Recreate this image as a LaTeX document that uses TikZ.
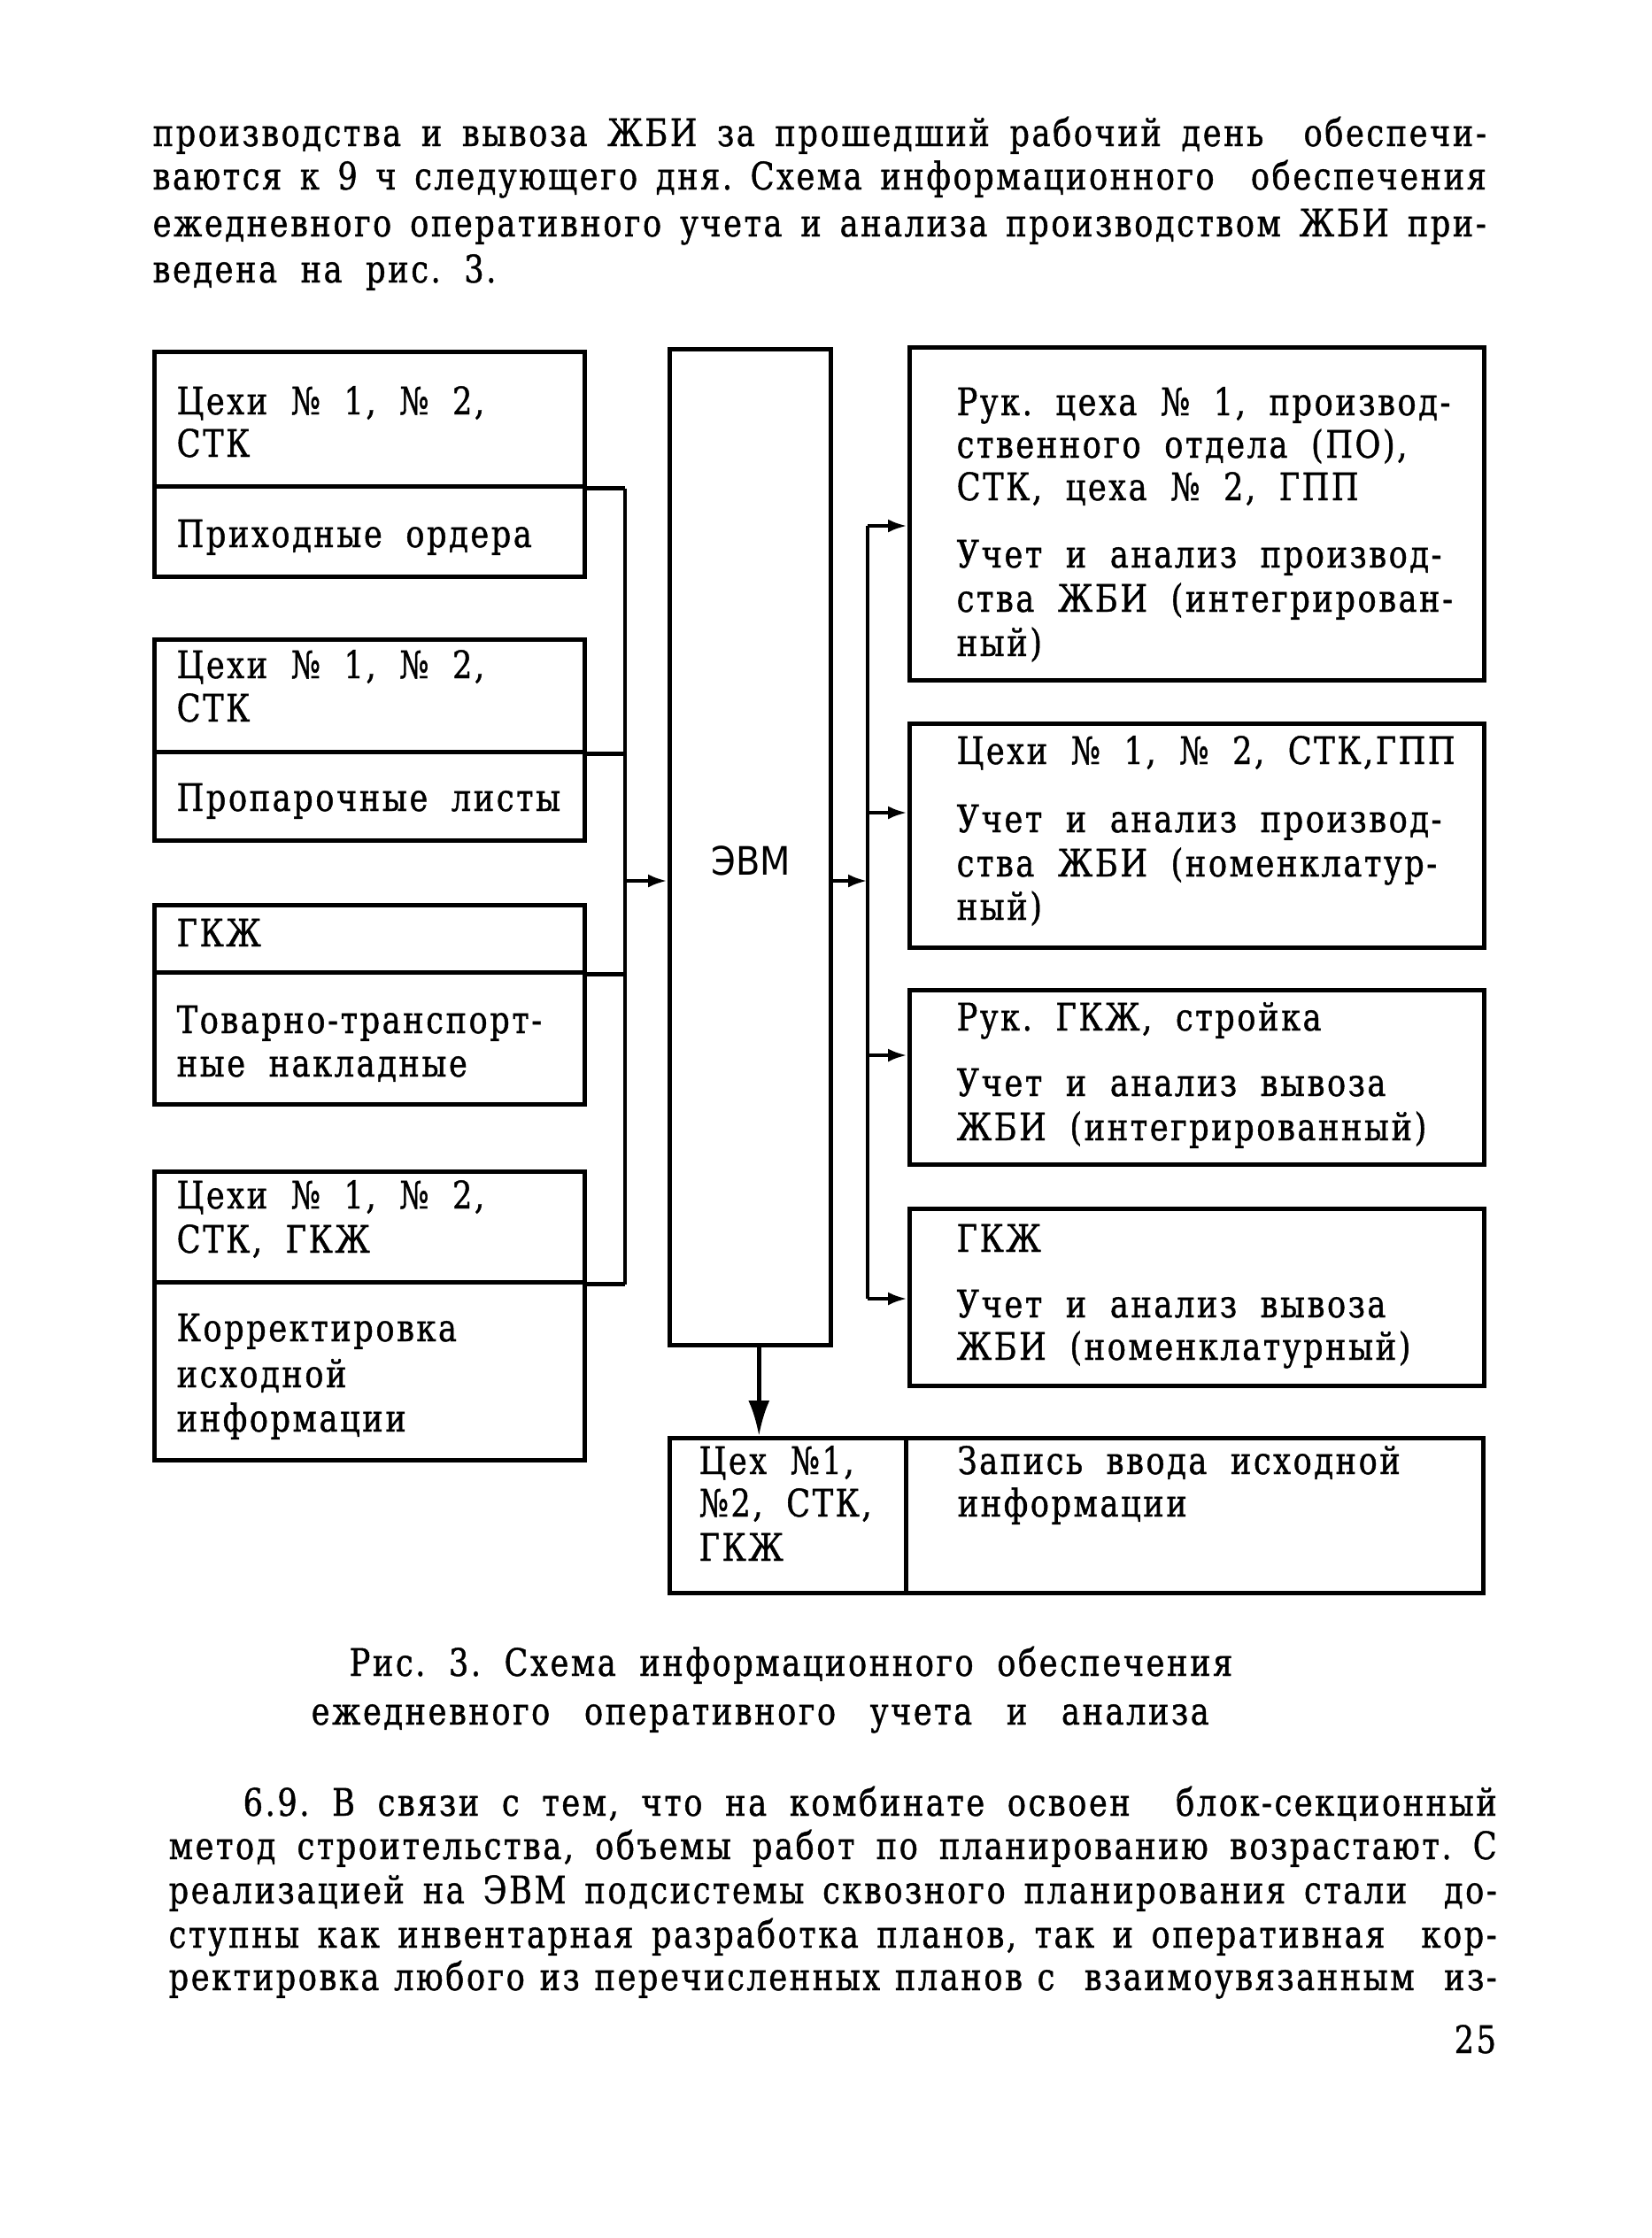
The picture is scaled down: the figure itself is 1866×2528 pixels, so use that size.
\documentclass[tikz,border=0pt]{standalone}
\usepackage{fontspec}
\setmainfont{DejaVu Serif}[FakeStretch=0.82,LetterSpace=6,FakeBold=1]
\newfontfamily\evmfont{DejaVu Sans}[FakeStretch=0.9]
\usetikzlibrary{arrows.meta}
\usetikzlibrary{positioning}
\newcommand{\jline}[2]{\hbox to #1{\frenchspacing\spaceskip=.5em plus 1fil minus .25em\relax #2}}
\newcommand{\boxfont}{\fontsize{12.2}{14}\selectfont\frenchspacing\spaceskip=.62em plus .2em\relax}

\begin{document}
\begin{tikzpicture}[x=0.1mm,y=-0.1mm]
  \tikzset{box/.style = {draw,line width=1.3pt,inner sep=0pt,anchor=north west}}
  \tikzset{txt/.style = {anchor=base west,inner sep=0pt,font=\boxfont}}
  \tikzset{wire/.style = {line width=1.3pt}}
  \tikzset{arr/.style = {wire,-{Latex[length=2.2mm,width=1.5mm]}}}
  \tikzset{bigarr/.style = {wire,-{Latex[length=4mm,width=2.4mm]}}}

  \useasboundingbox (0,0) rectangle (1866,2528);

  % text above the figure
  \node[txt] (p1) at (172,165) {\jline{150.6mm}{производства и вывоза ЖБИ за прошедший рабочий день~ обеспечи-}};
  \node[txt] (p2) at (172,214) {\jline{150.6mm}{ваются к 9 ч следующего дня. Схема информационного~ обеспечения}};
  \node[txt] (p3) at (172,267) {\jline{150.6mm}{ежедневного оперативного учета и анализа производством ЖБИ при-}};
  \node[txt] (p4) at (172,319) {ведена на рис. 3.};

  % sources
  \node[box,minimum width=48.6mm,minimum height=15.2mm] (L1a) at (172,395) {};
  \node[box,minimum width=48.6mm,minimum height=10.2mm] (L1b) at (172,547) {};
  \node[box,minimum width=48.6mm,minimum height=12.7mm] (L2a) at (172,720) {};
  \node[box,minimum width=48.6mm,minimum height=10.0mm] (L2b) at (172,847) {};
  \node[box,minimum width=48.6mm,minimum height=7.6mm] (L3a) at (172,1020) {};
  \node[box,minimum width=48.6mm,minimum height=14.9mm] (L3b) at (172,1096) {};
  \node[box,minimum width=48.6mm,minimum height=12.5mm] (L4a) at (172,1321) {};
  \node[box,minimum width=48.6mm,minimum height=20.1mm] (L4b) at (172,1446) {};

  \foreach \y/\t [count=\i] in {468/{Цехи № 1, № 2,},516/СТК,618/Приходные ордера,
    766/{Цехи № 1, № 2,},815/СТК,916/Пропарочные листы,
    1069/ГКЖ,1167/Товарно-транспорт-,1216/ные накладные,
    1365/{Цехи № 1, № 2,},1415/{СТК, ГКЖ},1515/Корректировка,1567/исходной,1617/информации}
    \node[txt] (lt\i) at (199,\y) {\t};

  % computer
  \node[box,minimum width=18.2mm,minimum height=112.5mm] (evm) at (754,392) {};
  \node[txt,anchor=center,font=\fontsize{12.6}{14}\evmfont] (evmt) at (848,972) {ЭВМ};

  % users
  \node[box,minimum width=64.9mm,minimum height=37.6mm] (R1) at (1025,390) {};
  \node[box,minimum width=64.9mm,minimum height=25.3mm] (R2) at (1025,815) {};
  \node[box,minimum width=64.9mm,minimum height=19.7mm] (R3) at (1025,1116) {};
  \node[box,minimum width=64.9mm,minimum height=20.0mm] (R4) at (1025,1363) {};

  \foreach \y/\t [count=\i] in {469/{Рук. цеха № 1, производ-},517/{ственного отдела (ПО),},
    565/{СТК, цеха № 2, ГПП},641/Учет и анализ производ-,691/ства ЖБИ (интегрирован-,741/ный),
    863/{Цехи № 1, № 2, СТК,ГПП},940/Учет и анализ производ-,990/ства ЖБИ (номенклатур-,1039/ный),
    1164/{Рук. ГКЖ, стройка},1238/Учет и анализ вывоза,1288/ЖБИ (интегрированный),
    1414/ГКЖ,1488/Учет и анализ вывоза,1536/ЖБИ (номенклатурный)}
    \node[txt] (rt\i) at (1080,\y) {\t};

  % record of input
  \node[box,minimum width=26.7mm,minimum height=17.5mm] (B1) at (754,1622) {};
  \node[box,minimum width=65.2mm,minimum height=17.5mm] (B2) at (1021,1622) {};
  \foreach \x/\y/\t [count=\i] in {789/1665/{Цех №1,},789/1713/{№2, СТК,},789/1763/ГКЖ,
    1081/1665/Запись ввода исходной,1081/1713/информации}
    \node[txt] (bt\i) at (\x,\y) {\t};

  % connectors
  \coordinate (lbus) at (706,0);
  \coordinate (lj) at (706,995);
  \coordinate (rj) at (980,995);
  \coordinate (rb1) at (980,594);
  \coordinate (rb2) at (980,918);
  \coordinate (rb3) at (980,1192);
  \coordinate (rb4) at (980,1467);

  \foreach \from in {L1a,L2a,L3a,L4a}
    \draw[wire] (\from.south east) -- (\from.south east -| lbus);
  \draw[wire] (L1a.south east -| lbus) -- (L4a.south east -| lbus);
  \draw[arr] (lj) -- (lj -| evm.west);

  \draw[arr] (rj -| evm.east) -- (rj);
  \draw[wire] (rb1) -- (rb4);
  \foreach \from/\to in {rb1/R1,rb2/R2,rb3/R3,rb4/R4}
    \draw[arr] (\from) -- (\from -| \to.west);

  \draw[bigarr] ([xshift=1mm]evm.south) -- ([xshift=1mm]evm.south |- B1.north);

  % caption
  \node[txt] (cap1) at (394,1893) {Рис. 3. Схема информационного обеспечения};
  \node[txt] (cap2) at (351,1948) {\jline{101.4mm}{ежедневного~ оперативного~ учета~ и~ анализа}};

  % text below the figure
  \node[txt] (q1) at (274,2051) {\jline{141.6mm}{6.9. В связи с тем, что на комбинате освоен~ блок-секционный}};
  \node[txt] (q2) at (190,2100) {\jline{150mm}{метод строительства, объемы работ по планированию возрастают. С}};
  \node[txt] (q3) at (190,2150) {\jline{150mm}{реализацией на ЭВМ подсистемы сквозного планирования стали~ до-}};
  \node[txt] (q4) at (190,2200) {\jline{150mm}{ступны как инвентарная разработка планов, так и оперативная~ кор-}};
  \node[txt] (q5) at (190,2248) {\jline{150mm}{ректировка любого из перечисленных планов с~ взаимоувязанным~ из-}};
  \node[txt] (pg) at (1642,2319) {25};
\end{tikzpicture}
\end{document}
